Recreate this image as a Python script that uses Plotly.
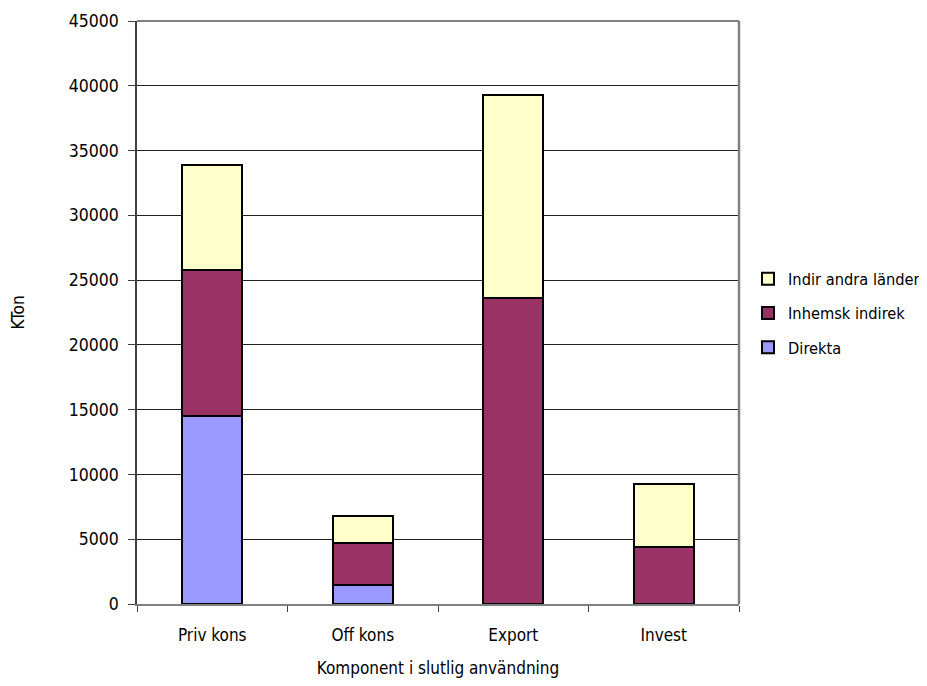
import plotly.graph_objects as go

categories = ["Priv kons", "Off kons", "Export", "Invest"]
direkta = [14500, 1500, 0, 0]
inhemsk_indirek = [11300, 3200, 23600, 4400]
indir_andra_lander = [8100, 2100, 15700, 4900]

series_names = ["Direkta", "Inhemsk indirek", "Indir andra länder"]
series_values = [direkta, inhemsk_indirek, indir_andra_lander]
series_colors = ["#9999FF", "#993366", "#FFFFCC"]

y_ticks = [0, 5000, 10000, 15000, 20000, 25000, 30000, 35000, 40000, 45000]

FONT = "DejaVu Sans Condensed, Liberation Sans Narrow, Arial Narrow, sans-serif"

fig = go.Figure()
n = len(series_names)
for i, (name, vals, col) in enumerate(zip(series_names, series_values, series_colors)):
    fig.add_trace(go.Bar(
        x=categories, y=vals, name=name,
        marker=dict(color=col, line=dict(color="black", width=2)),
        legendgroup=f"g{i}", legendrank=n - i,
    ))

fig.update_layout(
    barmode="stack",
    bargap=0.6,
    width=911, height=670,
    margin=dict(l=129, r=180, t=13, b=74, autoexpand=False),
    paper_bgcolor="white", plot_bgcolor="white",
    font=dict(family=FONT, size=17, color="black"),
    showlegend=True,
    legend=dict(
        x=1.015, y=0.587, xanchor="left", yanchor="top",
        traceorder="grouped", tracegroupgap=10,
        font=dict(family=FONT, size=16.3, color="black"),
        itemwidth=30,
    ),
    xaxis=dict(
        title=dict(text="Komponent i slutlig användning", standoff=26,
                   font=dict(family=FONT, size=17)),
        showline=True, linecolor="#808080", linewidth=2,
        ticks="outside", tickson="boundaries", ticklen=6, tickcolor="#404040",
        ticklabelstandoff=15,
        showgrid=False, automargin=False,
    ),
    yaxis=dict(
        title=dict(text="KTon", standoff=41, font=dict(family=FONT, size=17)),
        range=[0, 45000], tickvals=y_ticks, ticktext=[str(v) for v in y_ticks],
        showline=True, linecolor="#404040", linewidth=1.5,
        ticks="outside", ticklen=7, tickcolor="#404040",
        ticklabelstandoff=6,
        showgrid=True, gridcolor="#202020", gridwidth=1,
        zeroline=False, automargin=False,
        tickfont=dict(family=FONT, size=17.5),
    ),
    shapes=[
        dict(type="line", xref="paper", yref="paper", x0=0, x1=1, y0=1, y1=1,
             line=dict(color="#808080", width=2)),
        dict(type="line", xref="paper", yref="paper", x0=1, x1=1, y0=0, y1=1,
             line=dict(color="#808080", width=2.5)),
    ],
)

fig.write_html("out.html")
